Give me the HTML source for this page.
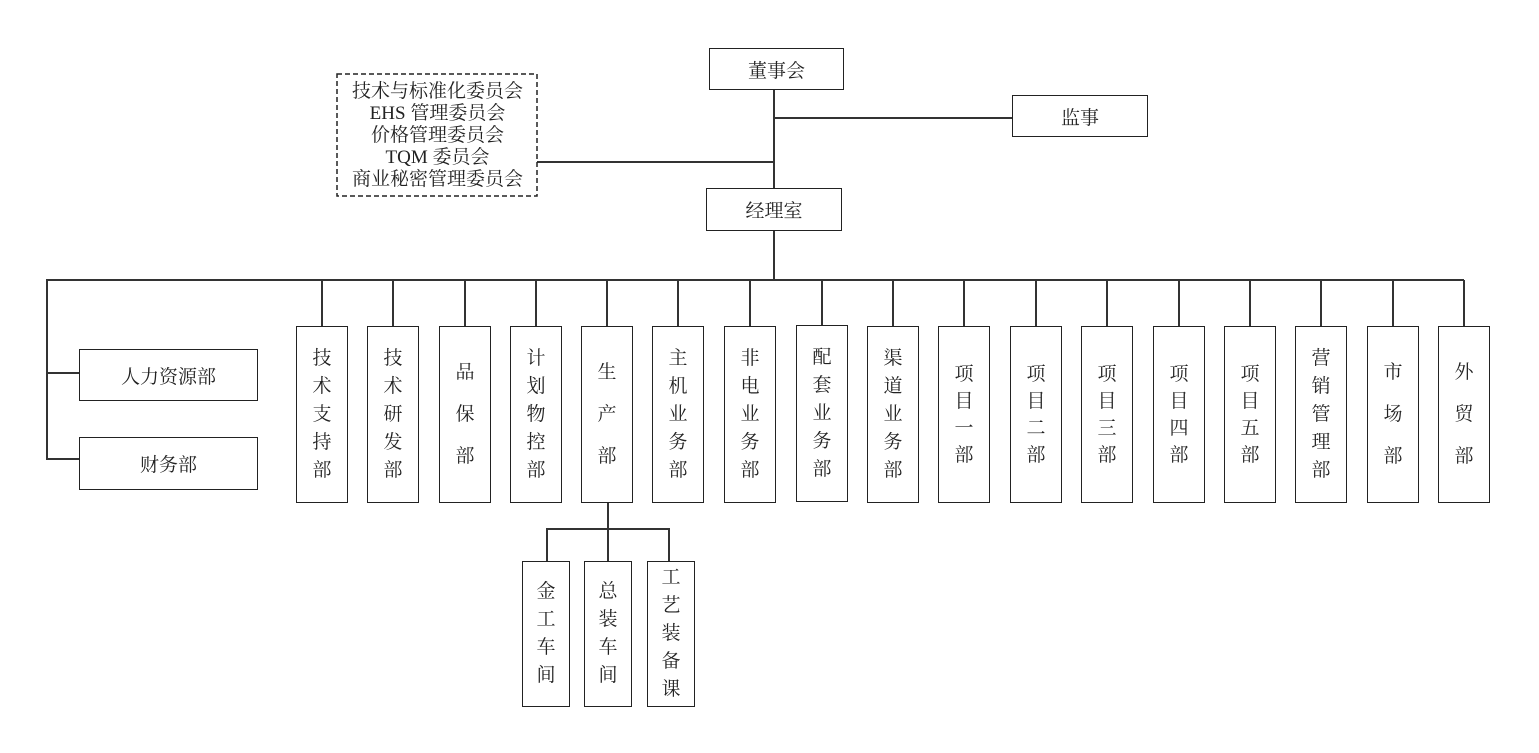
<!DOCTYPE html>
<html><head><meta charset="utf-8"><style>
body{margin:0;width:1539px;height:753px;background:#fff;position:relative;overflow:hidden;font-family:"Liberation Serif","Noto Serif CJK SC",serif;color:#222}
.b{position:absolute;border:1.5px solid #222;box-sizing:border-box;display:flex;align-items:center;justify-content:center;font-size:19px;background:#fff}
.v{flex-direction:column;line-height:28px;text-align:center;width:52px}
.l{position:absolute;background:#333}
</style></head><body>
<div class="l" style="left:773px;top:89px;width:1.5px;height:100px"></div>
<div class="l" style="left:773px;top:117px;width:240px;height:1.5px"></div>
<div class="l" style="left:537px;top:161px;width:237px;height:1.5px"></div>
<div class="l" style="left:773px;top:230px;width:1.5px;height:50px"></div>
<div class="l" style="left:46px;top:279px;width:1418px;height:1.5px"></div>
<div class="l" style="left:46px;top:279px;width:1.5px;height:180px"></div>
<div class="l" style="left:46px;top:372px;width:34px;height:1.5px"></div>
<div class="l" style="left:46px;top:458px;width:34px;height:1.5px"></div>
<div class="l" style="left:607px;top:502px;width:1.5px;height:27px"></div>
<div class="l" style="left:546px;top:528px;width:123px;height:1.5px"></div>
<div class="l" style="left:546px;top:528px;width:1.5px;height:33px"></div>
<div class="l" style="left:607px;top:528px;width:1.5px;height:33px"></div>
<div class="l" style="left:668px;top:528px;width:1.5px;height:33px"></div>

<div class="b" style="left:709px;top:48px;width:135px;height:42px">董事会</div>
<div class="b" style="left:1012px;top:95px;width:136px;height:42px">监事</div>
<div class="b" style="left:706px;top:188px;width:136px;height:43px">经理室</div>
<svg style="position:absolute;left:336px;top:73px" width="203" height="125"><rect x="1" y="1" width="200" height="122" fill="none" stroke="#222" stroke-width="1.5" stroke-dasharray="5,3"/></svg>
<div style="position:absolute;left:337px;top:74px;width:201px;height:123px;display:flex;flex-direction:column;align-items:center;justify-content:center;line-height:22px;font-size:19px">
<div>技术与标准化委员会</div><div>EHS 管理委员会</div><div>价格管理委员会</div><div>TQM 委员会</div><div>商业秘密管理委员会</div></div>
<div class="b" style="left:79px;top:349px;width:179px;height:52px">人力资源部</div>
<div class="b" style="left:79px;top:437px;width:179px;height:53px">财务部</div>

<div id="c"></div>
<script>
var xs=[296,367,439,510,581,652,724,796,867,938,1010,1081,1153,1224,1295,1367,1438];
var t=["技术支持部","技术研发部","品保部","计划物控部","生产部","主机业务部","非电业务部","配套业务部","渠道业务部","项目一部","项目二部","项目三部","项目四部","项目五部","营销管理部","市场部","外贸部"];
var h="";
xs.forEach(function(x,i){
 var s=t[i].split("");var lh=s.length==3?42:(s.length==4?27:28);
 var top=i==7?325:326;
 h+='<div class="l" style="left:'+(x+25)+'px;top:280px;width:1.5px;height:46px"></div>';
 h+='<div class="b v" style="left:'+x+'px;top:'+top+'px;height:177px;line-height:'+lh+'px">'+s.map(function(c){return'<div>'+c+'</div>'}).join('')+'</div>';
});
var bx=[522,584,647],bt=["金工车间","总装车间","工艺装备课"];
bx.forEach(function(x,i){
 h+='<div class="b v" style="left:'+x+'px;top:561px;width:48px;height:146px">'+bt[i].split("").map(function(c){return'<div>'+c+'</div>'}).join('')+'</div>';
});
document.getElementById("c").innerHTML=h;
</script>
</body></html>
